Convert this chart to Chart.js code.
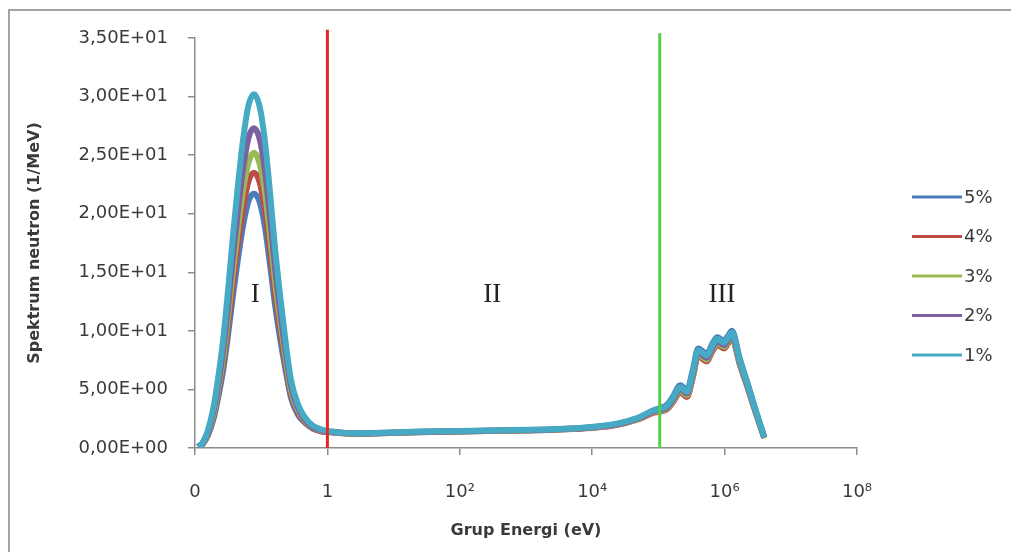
<!DOCTYPE html>
<html>
<head>
<meta charset="utf-8">
<script src="https://cdn.jsdelivr.net/npm/chart.js@4"></script>
<style>
  html, body { margin: 0; padding: 0; background: #fff; overflow: hidden; }
  #wrap { position: relative; width: 1011px; height: 552px; }
  #frame { position: absolute; left: 8px; top: 9px; width: 1100px; height: 600px; border: 2px solid #a3a3a3; }
  #chart { position: absolute; left: 0; top: 0; }
</style>
</head>
<body>
<div id="wrap">
  <div id="frame"></div>
  <canvas id="chart" width="1011" height="552"></canvas>
</div>
<script>
// energy groups, as log10(E / eV)
const logE = [
  -1.95, -1.88, -1.80, -1.72, -1.65, -1.57, -1.50, -1.42, -1.35, -1.27, -1.19, -1.11,
  -1.03, -0.95, -0.87, -0.79, -0.71, -0.63, -0.55, -0.45, -0.35, -0.22, -0.10, 0.00,
  0.08, 0.25, 0.40, 0.80, 1.40, 2.00, 2.40, 3.00, 3.40, 3.90, 4.30, 4.50, 4.70, 4.92,
  5.02, 5.13, 5.22, 5.33, 5.43, 5.52, 5.60, 5.73, 5.82, 5.89, 5.99, 6.05, 6.11, 6.23,
  6.35, 6.47, 6.60,
];

const seriesNames = ["5%", "4%", "3%", "2%", "1%"];
const seriesColors = ["#4a7ebb", "#be4b48", "#98b954", "#7d60a0", "#46aac5"];

const spec5 = [
  0.1, 0.36, 1.15, 2.5, 4.3, 6.8, 9.7, 13.3, 16.2, 19.1, 21.1, 21.7,
  21.1, 19.1, 15.8, 12.2, 9.2, 6.6, 4.3, 2.9, 2.2, 1.65, 1.42, 1.35,
  1.33, 1.25, 1.2, 1.25, 1.35, 1.4, 1.45, 1.5, 1.56, 1.7, 1.95, 2.2, 2.58, 3.2,
  3.4, 3.7, 4.4, 5.35, 4.95, 6.65, 8.5, 8.05, 8.95, 9.45, 9.15, 9.55, 10.0, 7.6,
  5.45, 3.2, 0.9,
];
const spec4 = [
  0.1, 0.4, 1.25, 2.7, 4.7, 7.4, 10.5, 14.4, 17.5, 20.6, 22.8, 23.5,
  22.8, 20.6, 17.1, 13.2, 10.0, 7.1, 4.6, 3.1, 2.3, 1.7, 1.45, 1.38,
  1.35, 1.26, 1.21, 1.26, 1.36, 1.41, 1.46, 1.5, 1.55, 1.68, 1.9, 2.13, 2.45, 3.0,
  3.1, 3.3, 3.9, 4.75, 4.35, 6.0, 7.85, 7.4, 8.3, 8.8, 8.5, 8.9, 9.35, 7.1,
  5.1, 3.0, 0.85,
];
const spec3 = [
  0.1, 0.42, 1.35, 2.9, 5.0, 7.9, 11.3, 15.4, 18.8, 22.1, 24.4, 25.2,
  24.4, 22.1, 18.3, 14.2, 10.7, 7.6, 4.9, 3.3, 2.4, 1.75, 1.5, 1.4,
  1.36, 1.27, 1.22, 1.27, 1.37, 1.42, 1.47, 1.52, 1.57, 1.7, 1.94, 2.17, 2.5, 3.06,
  3.15, 3.35, 4.0, 4.9, 4.5, 6.15, 8.0, 7.55, 8.45, 8.95, 8.65, 9.05, 9.5, 7.2,
  5.2, 3.05, 0.85,
];
const spec2 = [
  0.1, 0.45, 1.45, 3.2, 5.4, 8.6, 12.2, 16.7, 20.3, 24.0, 26.5, 27.3,
  26.5, 24.0, 19.9, 15.4, 11.6, 8.2, 5.3, 3.5, 2.5, 1.8, 1.55, 1.42,
  1.38, 1.28, 1.23, 1.28, 1.38, 1.43, 1.48, 1.53, 1.58, 1.72, 1.96, 2.2, 2.55, 3.12,
  3.25, 3.45, 4.15, 5.05, 4.65, 6.3, 8.15, 7.7, 8.6, 9.1, 8.8, 9.2, 9.65, 7.35,
  5.3, 3.1, 0.9,
];
const spec1 = [
  0.1, 0.5, 1.6, 3.5, 6.0, 9.5, 13.5, 18.5, 22.5, 26.5, 29.3, 30.2,
  29.3, 26.5, 22.0, 17.0, 12.8, 9.0, 5.8, 3.8, 2.7, 1.9, 1.6, 1.45,
  1.4, 1.3, 1.25, 1.3, 1.4, 1.45, 1.5, 1.55, 1.6, 1.75, 2.0, 2.25, 2.6, 3.2,
  3.35, 3.6, 4.3, 5.2, 4.8, 6.5, 8.35, 7.9, 8.8, 9.3, 9.0, 9.4, 9.85, 7.5,
  5.4, 3.2, 0.9,
];
const seriesValues = [spec5, spec4, spec3, spec2, spec1];

// region boundaries (log10 E) and their top ends
const boundaryX = [0, 5.02];
const boundaryTop = [35.7, 35.4];
const boundaryColors = ["#e3262b", "#55cc4c"];

// region labels
const regionText = ["I", "II", "III"];
const regionX = [-1.09, 2.49, 5.96];
const regionY = [13.1, 13.1, 13.1];

const xTickValues = [-2, 0, 2, 4, 6, 8];
const xTickLabels = ["0", "1", "10\u00b2", "10\u2074", "10\u2076", "10\u2078"];
const yTickLabels = [
  "0,00E+00", "5,00E+00", "1,00E+01", "1,50E+01",
  "2,00E+01", "2,50E+01", "3,00E+01", "3,50E+01",
];

const FONT = '"DejaVu Sans", sans-serif';
const AXIS_GREY = "#8c8c8c";
const TEXT = "#3a3a3a";

const datasets = seriesNames.map((name, i) => ({
  label: name,
  data: logE.map((x, j) => ({ x, y: seriesValues[i][j] })),
  borderColor: seriesColors[i],
  backgroundColor: seriesColors[i],
  borderWidth: 6,
  pointRadius: 0,
  cubicInterpolationMode: "monotone",
  order: 5 - i + 1,
}));

boundaryX.forEach((bx, i) => {
  datasets.push({
    label: "",
    data: [{ x: bx, y: 0 }, { x: bx, y: boundaryTop[i] }],
    borderColor: boundaryColors[i],
    borderWidth: 3,
    pointRadius: 0,
    clip: false,
    order: 0,
  });
});

// ── region labels I / II / III ─────────────────────────────────────────────
const regionPlugin = {
  id: "regions",
  afterDatasetsDraw(chart) {
    const { ctx, scales } = chart;
    ctx.save();
    ctx.font = '27px "Liberation Serif", serif';
    ctx.fillStyle = "#222";
    ctx.textAlign = "center";
    ctx.textBaseline = "middle";
    regionText.forEach((t, i) => {
      ctx.fillText(t, scales.x.getPixelForValue(regionX[i]), scales.y.getPixelForValue(regionY[i]));
    });
    ctx.restore();
  },
};

// ── side legend (line sample + label) ──────────────────────────────────────
const sideLegend = {
  id: "sideLegend",
  afterDraw(chart) {
    const { ctx, chartArea } = chart;
    const step = 39.5;
    const x0 = chartArea.right + 55;
    const y0 = chart.height / 2 - 2 * step;
    ctx.save();
    ctx.font = "18px " + FONT;
    ctx.textBaseline = "middle";
    seriesNames.forEach((name, i) => {
      const y = y0 + i * step;
      ctx.strokeStyle = seriesColors[i];
      ctx.lineWidth = 3;
      ctx.beginPath();
      ctx.moveTo(x0, y);
      ctx.lineTo(x0 + 50, y);
      ctx.stroke();
      ctx.fillStyle = TEXT;
      ctx.fillText(name, x0 + 52, y + 1);
    });
    ctx.restore();
  },
};

new Chart(document.getElementById("chart"), {
  type: "line",
  data: { datasets },
  options: {
    responsive: false,
    animation: false,
    devicePixelRatio: 1,
    layout: { padding: { left: 0, top: 38, right: 154, bottom: 0 } },
    plugins: {
      legend: { display: false },
      tooltip: { enabled: false },
    },
    scales: {
      x: {
        type: "linear",
        min: -2,
        max: 8,
        afterBuildTicks: (s) => { s.ticks = xTickValues.map((v) => ({ value: v })); },
        afterFit: (s) => { s.height = 104; },
        border: { display: true, color: AXIS_GREY, width: 1.5 },
        grid: { drawOnChartArea: false, drawTicks: true, tickLength: 7, color: AXIS_GREY, lineWidth: 1.5 },
        ticks: {
          padding: 27,
          color: TEXT,
          font: { family: FONT, size: 18 },
          maxRotation: 0,
          callback: (v, i) => xTickLabels[i],
        },
        title: {
          display: true,
          text: "Grup Energi (eV)",
          color: TEXT,
          font: { family: FONT, size: 16, weight: "bold" },
          padding: { top: 0, bottom: 12 },
        },
      },
      y: {
        min: 0,
        max: 35,
        afterBuildTicks: (s) => { s.ticks = yTickLabels.map((t, i) => ({ value: i * 5 })); },
        afterFit: (s) => { s.width = 195; },
        border: { display: true, color: AXIS_GREY, width: 1.5 },
        grid: { drawOnChartArea: false, drawTicks: true, tickLength: 7, color: AXIS_GREY, lineWidth: 1.5 },
        ticks: {
          padding: 20,
          color: TEXT,
          font: { family: FONT, size: 18 },
          callback: (v, i) => yTickLabels[i],
        },
        title: {
          display: true,
          text: "Spektrum neutron (1/MeV)",
          color: TEXT,
          font: { family: FONT, size: 16, weight: "bold" },
          padding: { top: 25, bottom: 0 },
        },
      },
    },
  },
  plugins: [regionPlugin, sideLegend],
});
</script>
</body>
</html>
